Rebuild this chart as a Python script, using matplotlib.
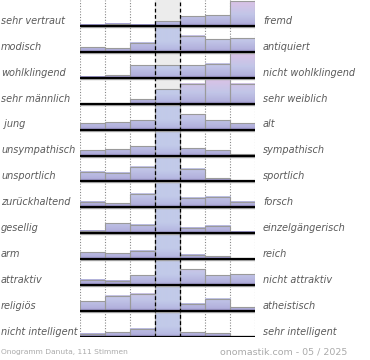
import numpy as np
from matplotlib import pyplot as plt
from matplotlib.colors import LinearSegmentedColormap

# Semantic differential poles (top to bottom)
LEFT_LABELS = [
    'sehr vertraut', 'modisch', 'wohlklingend', 'sehr männlich', ' jung',
    'unsympathisch', 'unsportlich', 'zurückhaltend', 'gesellig', 'arm',
    'attraktiv', 'religiös', 'nicht intelligent',
]
RIGHT_LABELS = [
    'fremd', 'antiquiert', 'nicht wohlklingend', 'sehr weiblich', 'alt',
    'sympathisch', 'sportlich', 'forsch', 'einzelgängerisch', 'reich',
    'nicht attraktiv', 'atheistisch', 'sehr intelligent',
]

# relative share of votes per step (% of the row maximum)
SHARES = [
    [5, 9, 5, 19, 39, 43, 100],
    [20, 16, 37, 100, 65, 52, 56],
    [5, 12, 52, 52, 52, 57, 100],
    [2, 1, 20, 58, 81, 100, 81],
    [27, 31, 37, 100, 64, 40, 25],
    [23, 27, 37, 100, 31, 21, 7],
    [40, 35, 57, 100, 49, 12, 0],
    [21, 16, 55, 100, 39, 43, 23],
    [9, 40, 35, 100, 23, 31, 5],
    [28, 24, 35, 100, 19, 11, 4],
    [21, 17, 40, 100, 64, 39, 44],
    [39, 61, 69, 100, 29, 49, 16],
    [13, 20, 33, 100, 20, 16, 4],
]

FOOTER_LEFT = 'Onogramm Danuta, 111 Stimmen'
FOOTER_RIGHT = 'onomastik.com - 05 / 2025'

W, H = 370, 360
N_ROWS = len(SHARES)
N_STEPS = 7
MAX_H = 0.96

side_cmap = LinearSegmentedColormap.from_list(
    'side', [(0, '#928ac2'), (0.1, '#b2b0dc'), (0.45, '#c2c6e8'), (1, '#dcc2e6')])
mid_cmap = LinearSegmentedColormap.from_list(
    'mid', [(0, '#9e98ca'), (0.1, '#b6b8e2'), (0.4, '#c2cae9'), (1, '#c2cae9')])

fig = plt.figure(figsize=(W / 100, H / 100), dpi=100)
ax = fig.add_axes([80 / W, 23 / H, 175 / W, 337 / H])
ax.set_xlim(0, N_STEPS)
ax.set_ylim(0, N_ROWS)
ax.axis('off')

# highlighted neutral column
ax.axvspan(3, 4, color='#ececec', zorder=0)
for x in [0, 1, 2, 5, 6, 7]:
    ax.axvline(x, color='#888888', lw=0.8, ls=(0, (1, 1.5)), zorder=0.5)

for i, row in enumerate(SHARES):
    base = N_ROWS - 1 - i
    heights = np.array(row) / max(row) * MAX_H
    for c, h in enumerate(heights):
        if h <= 0:
            continue
        cmap = mid_cmap if c == 3 else side_cmap
        grad = np.linspace(0, h, 50).reshape(-1, 1)
        ax.imshow(grad, cmap=cmap, vmin=0, vmax=1, origin='lower', aspect='auto',
                  extent=(c, c + 1, base, base + h), zorder=1, interpolation='bilinear')
    ax.bar(np.arange(N_STEPS), heights, width=1, bottom=base, align='edge',
           fill=False, edgecolor='#9a9a9a', lw=0.8, zorder=2)
    ax.hlines(base - 0.04, 0, N_STEPS, color='#b0b0b0', lw=1.0, zorder=2.5)
    ax.hlines(base, 0, N_STEPS, color='black', lw=1.6, zorder=3)

    ty = 1 - (337 - (base + 0.2) * 337 / N_ROWS) / H
    fig.text(1 / W, ty, LEFT_LABELS[i], ha='left', va='center', style='italic',
             color='#5a5a5a', fontsize=7.0)
    fig.text(263 / W, ty, RIGHT_LABELS[i], ha='left', va='center', style='italic',
             color='#5a5a5a', fontsize=7.0)

for x in [3, 4]:
    ax.axvline(x, color='black', lw=0.9, ls=(0, (3, 2)), zorder=4)

ax.set_xlim(0, N_STEPS)
ax.set_ylim(0, N_ROWS)

fig.text(1 / W, 1 - 352 / H, FOOTER_LEFT, ha='left', va='center', color='#aaaaaa', fontsize=5.4)
fig.text(220 / W, 1 - 352 / H, FOOTER_RIGHT, ha='left', va='center', color='#aaaaaa', fontsize=6.8)

fig.savefig('out.png', dpi=100)
